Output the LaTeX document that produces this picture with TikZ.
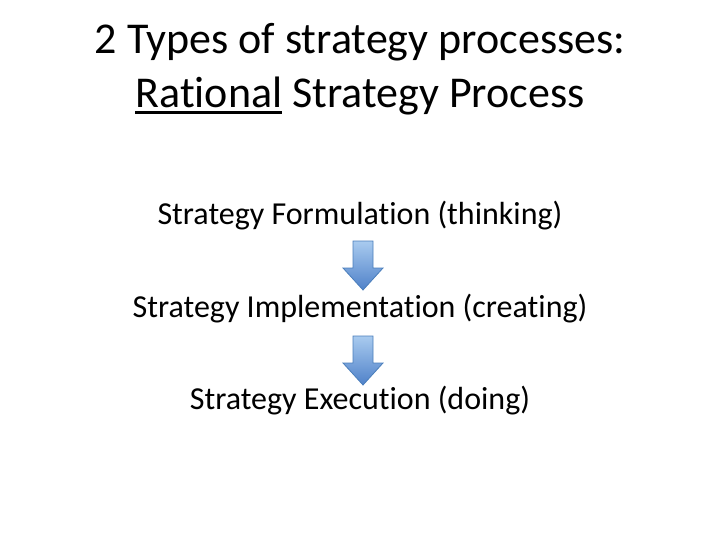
\documentclass[tikz,border=0pt]{standalone}
\usepackage{fontspec}
\setmainfont{Carlito}[RawFeature=-liga]
\newcommand{\thickul}[1]{\setbox0\hbox{#1}\rlap{\rule[-6pt]{\wd0}{2.6pt}}\box0\relax}
\tikzset{
  title/.style={font=\fontsize{44}{52}\selectfont, anchor=base, inner sep=0pt},
  body/.style={font=\fontsize{32}{38}\selectfont, anchor=base, inner sep=0pt},
  downarrow/.style={top color=arrowtop, bottom color=arrowbot, draw=arrowline, line width=0.8pt, line join=miter}
}
\definecolor{arrowtop}{HTML}{A9CBEF}
\definecolor{arrowbot}{HTML}{4F81C9}
\definecolor{arrowline}{HTML}{4A7EBB}
\begin{document}
\begin{tikzpicture}[x=1pt,y=-1pt]
\useasboundingbox (0,0) rectangle (720,540);
\node[title] (t1) at (360,54) {2 Types of strategy processes:};
\node[title] (t2) at (360,108) {\thickul{Rational} Strategy Process};
\node[body] (s1) at (360,225) {Strategy Formulation (thinking)};
\node[body] (s2) at (360,317) {Strategy Implementation (creating)};
\node[body] (s3) at (360,409) {Strategy Execution (doing)};
\foreach \y in {241,336} {
  \draw[downarrow] (353,\y) -- (373,\y) -- (373,\y+27) -- (383,\y+27) -- (363,\y+49) -- (343,\y+27) -- (353,\y+27) -- cycle;
}
\end{tikzpicture}
\end{document}
